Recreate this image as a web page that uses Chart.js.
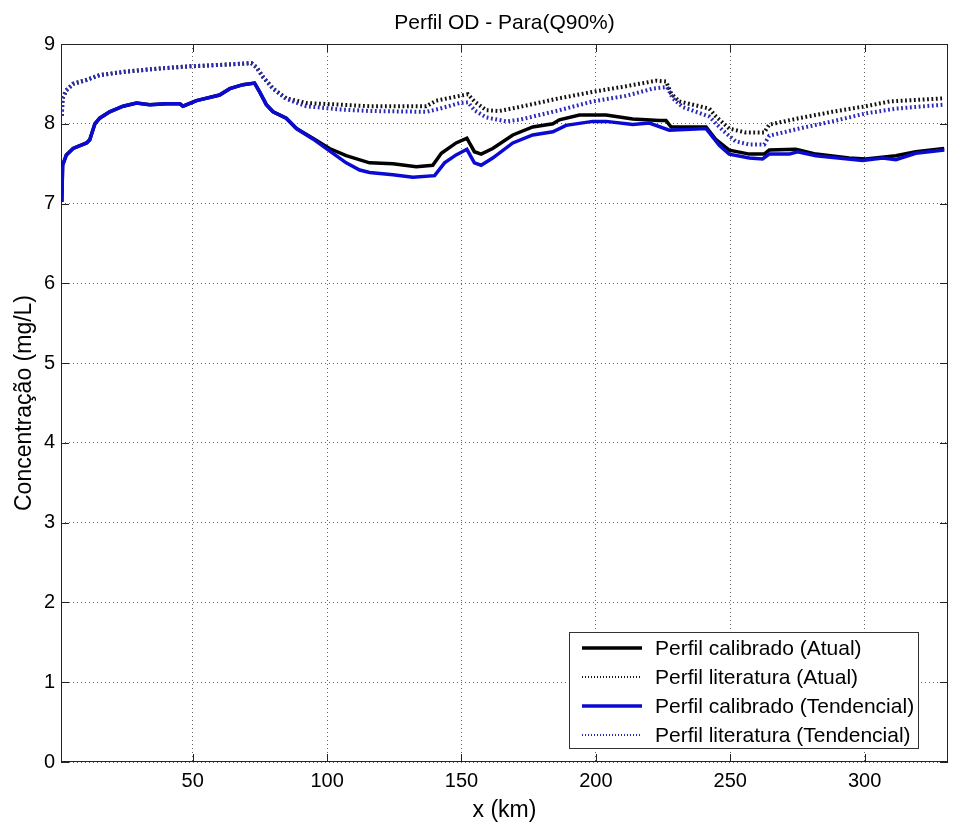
<!DOCTYPE html>
<html>
<head>
<meta charset="utf-8">
<script src="https://cdn.jsdelivr.net/npm/chart.js@4.4.1/dist/chart.umd.min.js"></script>
<style>
  body { margin: 0; background: #fff; }
</style>
</head>
<body>
<canvas id="od" width="959" height="825"></canvas>
<script>
// eixos
const xTicks = [50, 100, 150, 200, 250, 300];
const yTicks = [0, 1, 2, 3, 4, 5, 6, 7, 8, 9];

// Perfil calibrado (Atual)
const kmCalAtual = [1.3, 1.6, 3, 5.5, 10.5, 11.7, 13.6, 15.4, 19.1, 24.1, 29.1, 34, 40.2, 45.2, 46.4, 51.4, 60, 63.8, 68.7, 73, 74.9, 77.4, 79.9, 84.8, 88.6, 94.7, 100.9, 107.1, 115.8, 124.5, 133.2, 139.3, 142.5, 148, 152, 154.8, 157.3, 161.6, 169.1, 176.5, 184, 186.4, 193.9, 203.8, 213.7, 223.6, 226.1, 228, 232.3, 241, 244.7, 249.6, 257.1, 262.6, 264.5, 274.4, 281.9, 294.2, 300.4, 311.6, 319, 329.6];
const odCalAtual = [7.02, 7.48, 7.61, 7.69, 7.76, 7.8, 8.0, 8.07, 8.15, 8.22, 8.26, 8.24, 8.25, 8.25, 8.22, 8.29, 8.36, 8.44, 8.49, 8.51, 8.40, 8.24, 8.15, 8.07, 7.94, 7.82, 7.69, 7.60, 7.51, 7.50, 7.46, 7.48, 7.63, 7.76, 7.82, 7.65, 7.62, 7.69, 7.86, 7.96, 8.0, 8.05, 8.11, 8.11, 8.06, 8.04, 8.04, 7.96, 7.96, 7.96, 7.80, 7.67, 7.62, 7.62, 7.67, 7.68, 7.62, 7.57, 7.56, 7.60, 7.65, 7.69];

// Perfil literatura (Atual)
const kmLitAtual = [1.3, 1.6, 3, 5.5, 10.5, 15.4, 24.1, 36.5, 48.9, 61.3, 71.8, 73.7, 76.1, 79.9, 84.8, 92.3, 104.6, 115.8, 136.9, 140.6, 149.3, 152.4, 154.8, 159.2, 164.1, 171.5, 186.4, 198.8, 211.2, 222.4, 226.1, 228, 231, 242.2, 244.7, 249.6, 255.8, 262.6, 264.5, 275.6, 288, 300.4, 309.3, 329.6];
const odLitAtual = [8.1, 8.32, 8.42, 8.50, 8.55, 8.61, 8.65, 8.69, 8.72, 8.74, 8.76, 8.71, 8.59, 8.44, 8.32, 8.26, 8.24, 8.22, 8.22, 8.29, 8.35, 8.37, 8.28, 8.17, 8.16, 8.21, 8.32, 8.40, 8.47, 8.54, 8.53, 8.38, 8.28, 8.19, 8.09, 7.94, 7.89, 7.89, 7.99, 8.07, 8.15, 8.22, 8.28, 8.32];

// Perfil calibrado (Tendencial)
const kmCalTend = [1.3, 1.6, 3, 5.5, 10.5, 11.7, 13.6, 15.4, 19.1, 24.1, 29.1, 34, 40.2, 45.2, 46.4, 51.4, 60, 63.8, 68.7, 73, 74.9, 77.4, 79.9, 84.8, 88.6, 94.7, 100.9, 107.1, 112.1, 115.8, 124.5, 131.9, 140, 143.7, 148, 152, 154.8, 157.3, 161.6, 169.1, 176.5, 184, 188.9, 198.8, 203.8, 213.7, 219.9, 227.3, 241, 245.9, 249.6, 257.1, 262, 264.5, 272, 275, 281.9, 299.2, 306.7, 311.6, 319, 329.6];
const odCalTend = [7.02, 7.48, 7.61, 7.69, 7.76, 7.8, 8.0, 8.07, 8.15, 8.22, 8.26, 8.24, 8.25, 8.25, 8.22, 8.29, 8.36, 8.44, 8.49, 8.51, 8.40, 8.24, 8.15, 8.07, 7.94, 7.81, 7.66, 7.51, 7.42, 7.39, 7.36, 7.33, 7.35, 7.51, 7.61, 7.68, 7.51, 7.48, 7.57, 7.76, 7.86, 7.90, 7.98, 8.03, 8.03, 7.99, 8.01, 7.92, 7.94, 7.73, 7.62, 7.57, 7.56, 7.62, 7.62, 7.65, 7.60, 7.54, 7.57, 7.55, 7.63, 7.67];

// Perfil literatura (Tendencial)
const kmLitTend = [1.3, 1.6, 3, 5.5, 10.5, 15.4, 24.1, 36.5, 48.9, 61.3, 71.8, 73.7, 76.1, 79.9, 84.8, 92.3, 104.6, 115.8, 136.9, 142, 149.3, 152.4, 154.8, 159.2, 166.6, 171.5, 186.4, 198.8, 211.2, 221.1, 226.5, 228.6, 232.3, 242.2, 247.1, 252, 257.1, 262.6, 264.5, 275.6, 288, 300.4, 311.6, 329.6];
const odLitTend = [8.1, 8.32, 8.42, 8.50, 8.55, 8.61, 8.65, 8.69, 8.72, 8.74, 8.76, 8.71, 8.59, 8.44, 8.31, 8.22, 8.18, 8.16, 8.15, 8.19, 8.26, 8.27, 8.17, 8.08, 8.03, 8.05, 8.17, 8.28, 8.35, 8.44, 8.46, 8.32, 8.21, 8.09, 7.92, 7.78, 7.74, 7.74, 7.85, 7.94, 8.03, 8.13, 8.19, 8.24];

const pts = (xs, ys) => xs.map((x, i) => ({ x: x, y: ys[i] }));

// moldura + marcas internas, estilo matlab
const frame = {
  id: 'frame',
  beforeDatasetsDraw(chart) {
    const { ctx, chartArea: a, scales } = chart;
    ctx.save();
    ctx.strokeStyle = '#222';
    ctx.lineWidth = 1;
    ctx.beginPath();
    xTicks.forEach(v => {
      const x = Math.round(scales.x.getPixelForValue(v)) + 0.5;
      ctx.moveTo(x, a.bottom); ctx.lineTo(x, a.bottom - 8);
      ctx.moveTo(x, a.top); ctx.lineTo(x, a.top + 8);
    });
    yTicks.forEach(v => {
      const y = Math.round(scales.y.getPixelForValue(v)) + 0.5;
      ctx.moveTo(a.left, y); ctx.lineTo(a.left + 8, y);
      ctx.moveTo(a.right, y); ctx.lineTo(a.right - 8, y);
    });
    ctx.stroke();
    ctx.strokeRect(Math.round(a.left) + 0.5, Math.round(a.top) + 0.5,
      Math.round(a.right - a.left) - 1, Math.round(a.bottom - a.top) - 1);
    ctx.restore();
  }
};

const legendBox = {
  id: 'legendBox',
  afterDraw(chart) {
    const { ctx, chartArea: a } = chart;
    const w = 349, h = 116;
    const x0 = a.right - 30 - w, y0 = a.bottom - 14 - h;
    ctx.save();
    ctx.fillStyle = '#fff';
    ctx.fillRect(x0, y0, w, h);
    ctx.strokeStyle = '#333';
    ctx.lineWidth = 1;
    ctx.strokeRect(x0 + 0.5, y0 + 0.5, w, h);
    chart.data.datasets.forEach((ds, i) => {
      const y = y0 + 16 + i * 29;
      ctx.strokeStyle = ds.borderColor;
      ctx.lineWidth = ds.borderDash ? 2 : ds.borderWidth;
      ctx.setLineDash(ds.borderDash ? [1, 2] : []);
      ctx.beginPath();
      ctx.moveTo(x0 + 13, y); ctx.lineTo(x0 + 73, y);
      ctx.stroke();
      ctx.setLineDash([]);
      ctx.fillStyle = '#000';
      ctx.font = '21px Arial, "Liberation Sans", sans-serif';
      ctx.textBaseline = 'middle';
      ctx.fillText(ds.label, x0 + 86, y + 1);
    });
    ctx.restore();
  }
};

const font = 'Arial, "Liberation Sans", sans-serif';

new Chart(document.getElementById('od'), {
  type: 'line',
  data: {
    datasets: [
      { label: 'Perfil calibrado (Atual)', data: pts(kmCalAtual, odCalAtual),
        borderColor: '#000', borderWidth: 3.5, order: 4 },
      { label: 'Perfil literatura (Atual)', data: pts(kmLitAtual, odLitAtual),
        borderColor: '#111', borderWidth: 4, borderDash: [1.8, 2.6], order: 3 },
      { label: 'Perfil calibrado (Tendencial)', data: pts(kmCalTend, odCalTend),
        borderColor: '#0a0ad2', borderWidth: 3.5, order: 2 },
      { label: 'Perfil literatura (Tendencial)', data: pts(kmLitTend, odLitTend),
        borderColor: '#2a2ab8', borderWidth: 4, borderDash: [1.8, 2.6], order: 1 }
    ]
  },
  options: {
    responsive: false,
    animation: false,
    elements: { point: { radius: 0 }, line: { tension: 0, borderCapStyle: 'butt' } },
    layout: { padding: { left: 0, right: 11, top: 0, bottom: 0 } },
    plugins: {
      legend: { display: false },
      tooltip: { enabled: false },
      title: {
        display: true,
        text: 'Perfil OD - Para(Q90%)',
        fullSize: false,
        color: '#000',
        font: { family: font, size: 21, weight: 'normal' },
        padding: { top: 10.4, bottom: 8.4 }
      }
    },
    scales: {
      x: {
        type: 'linear',
        min: 1,
        max: 331,
        afterBuildTicks: s => { s.ticks = xTicks.map(v => ({ value: v })); },
        afterFit: s => { s.height = 63; },
        ticks: { color: '#000', font: { family: font, size: 20 }, padding: 7, maxRotation: 0 },
        grid: { color: 'rgba(0,0,0,0.6)', lineWidth: 1, drawTicks: false },
        border: { display: false, dash: [1, 3] },
        title: { display: true, text: 'x (km)', color: '#000',
          font: { family: font, size: 23 }, padding: { top: 0, bottom: 1 } }
      },
      y: {
        type: 'linear',
        min: 0,
        max: 9,
        afterBuildTicks: s => { s.ticks = yTicks.map(v => ({ value: v })); },
        afterFit: s => { s.width = 61; },
        ticks: { color: '#000', font: { family: font, size: 20 }, padding: 6 },
        grid: { color: 'rgba(0,0,0,0.6)', lineWidth: 1, drawTicks: false },
        border: { display: false, dash: [1, 3] },
        title: { display: true, text: 'Concentração (mg/L)', color: '#000',
          font: { family: font, size: 23 }, padding: { top: 11, bottom: 0 } }
      }
    }
  },
  plugins: [frame, legendBox]
});
</script>
</body>
</html>
